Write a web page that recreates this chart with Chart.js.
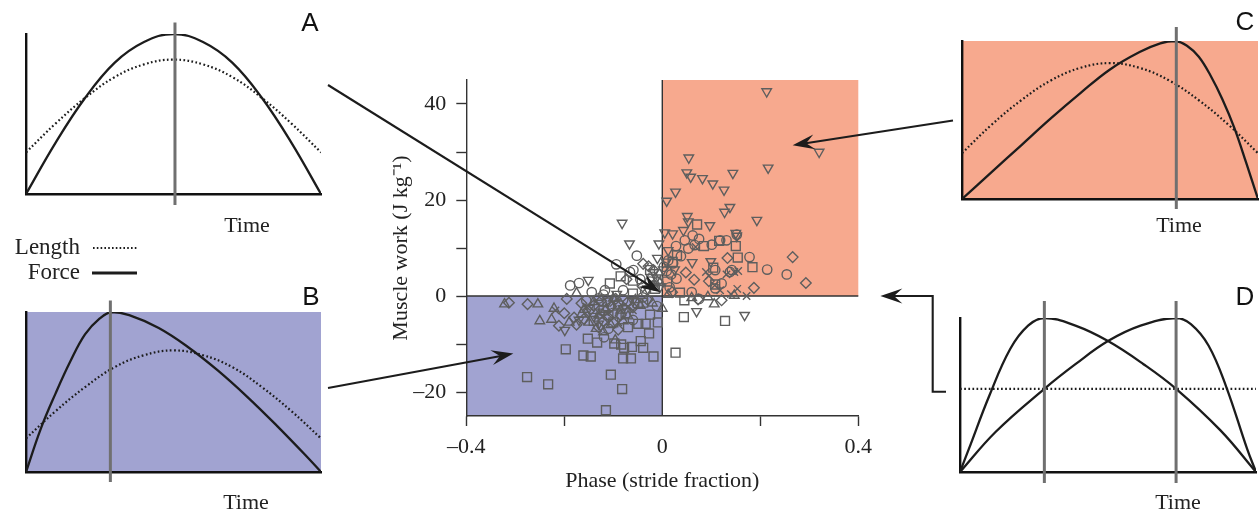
<!DOCTYPE html>
<html>
<head>
<meta charset="utf-8">
<script src="https://cdn.jsdelivr.net/npm/chart.js@4/dist/chart.umd.min.js"></script>
<style>
  html, body { margin: 0; padding: 0; background: #fff; }
  #wrap { position: relative; width: 1260px; height: 514px; overflow: hidden; }
  canvas { position: absolute; }
  .txt { position: absolute; transform: translate(-50%, -50%); white-space: nowrap; line-height: 1;
         font-family: "Liberation Serif", "Times New Roman", serif; font-size: 22px; color: #222; }
  .right { transform: translate(-100%, -50%); }
  .letter { font-family: "Liberation Sans", Arial, sans-serif; font-size: 26px; color: #111; }
  #legendLines { position: absolute; left: 0; top: 0; }
</style>
</head>
<body>
<div id="wrap">
  <canvas id="main" width="1260" height="514" style="left:0;top:0"></canvas>
  <canvas id="panelA"></canvas>
  <canvas id="panelB"></canvas>
  <canvas id="panelC"></canvas>
  <canvas id="panelD"></canvas>

  <div class="txt letter" style="left:310px;top:22px">A</div>
  <div class="txt letter" style="left:311px;top:296px">B</div>
  <div class="txt letter" style="left:1245px;top:21px">C</div>
  <div class="txt letter" style="left:1245px;top:296px">D</div>

  <div class="txt" style="left:247px;top:225px">Time</div>
  <div class="txt" style="left:246px;top:502px">Time</div>
  <div class="txt" style="left:1179px;top:225px">Time</div>
  <div class="txt" style="left:1178px;top:502px">Time</div>

  <div class="txt right" style="left:80px;top:246px;font-size:23px">Length</div>
  <div class="txt right" style="left:80px;top:271px;font-size:23px">Force</div>
  <svg id="legendLines" width="160" height="300">
    <line x1="93" y1="248" x2="137" y2="248" stroke="#1c1c1c" stroke-width="2" stroke-dasharray="1.6 2.2"/>
    <line x1="92" y1="273" x2="137" y2="273" stroke="#1c1c1c" stroke-width="3"/>
  </svg>
</div>

<script>
// ---- scatter: phase (stride fraction) vs muscle work (J/kg), one list per marker ----
const circles = [[-0.052,8.4],[-0.094,6.6],[-0.059,5.4],[-0.066,5.0],[-0.188,2.2],[-0.170,2.7],[-0.144,0.8],[-0.117,1.2],
  [-0.080,1.2],[-0.119,-8.6],[-0.011,-2.1],[0.214,5.5],[0.254,4.5],[0.178,8.1],[0.142,5.4],[0.138,5.0],[0.121,2.6],
  [0.131,11.6],[0.118,11.6],[0.101,10.7],[0.062,12.6],[0.046,11.6],[0.028,10.4],[0.053,9.9],[0.066,10.6],[0.029,3.6],
  [0.009,5.2],[0.022,6.8],[0.108,5.4],[0.012,7.4],[0.003,6.1],[0.038,8.3],[0.075,11.9],[0.152,12.8],[0.060,0.8],
  [0.075,-0.6],[0.108,1.6],[-0.025,3.0],[-0.015,2.2],[-0.035,1.0],[-0.020,4.0],[-0.045,3.5],[-0.130,-0.5],[-0.090,-1.6],
  [-0.100,-3.5],[-0.155,-1.0],[-0.120,0.3],[-0.080,-0.8],[-0.060,-5.0],[-0.040,-0.3],[-0.110,-6.8],[0.018,4.5],[0.015,1.8]];

const upTriangles = [[-0.322,-1.7],[-0.254,-1.7],[-0.250,-5.2],[-0.226,-4.9],[-0.221,-2.6],[-0.190,-5.5],[-0.175,0.6],
  [-0.160,-2.8],[-0.150,-5.5],[-0.130,-4.0],[-0.120,-7.5],[-0.105,-6.0],[-0.096,-9.2],[-0.085,-3.0],[-0.070,-4.2],
  [-0.045,-2.0],[-0.140,-1.2],[-0.115,-2.8],[-0.100,-0.5],[-0.080,-5.2],[-0.165,-3.8],[-0.135,-6.8],[-0.055,-0.8],
  [-0.020,-1.5],[-0.005,2.8],[0.012,0.3],[0.000,-2.6],[0.060,-0.4],[0.093,-0.2],[0.106,-1.7],[0.147,0.1]];

const downTriangles = [[0.213,42.6],[0.320,30.0],[0.054,28.8],[0.050,25.7],[0.058,24.8],[0.082,24.5],[0.103,23.4],
  [0.144,25.6],[0.216,26.7],[0.126,22.1],[0.027,21.7],[0.009,19.8],[0.138,18.5],[0.127,17.5],[0.193,15.8],[0.051,16.6],
  [0.053,15.5],[0.097,14.7],[-0.082,15.2],[-0.067,10.9],[0.005,13.2],[0.021,13.0],[0.043,13.7],[0.150,13.1],[0.152,12.5],
  [-0.007,10.9],[-0.010,7.9],[0.012,9.5],[0.061,7.0],[0.099,7.2],[0.008,7.1],[-0.151,3.3],[0.168,-4.0],[0.070,-3.2],
  [-0.199,-7.1],[-0.017,4.9],[-0.012,3.8],[0.002,5.5],[-0.004,2.0],[-0.030,1.5],[-0.093,0.4],[-0.060,-1.0],[-0.150,-2.5],
  [-0.110,-1.0],[-0.080,-2.6],[-0.170,-5.0],[-0.130,-5.8],[-0.140,-4.2],[0.025,5.5]];

const squares = [[0.071,14.9],[0.116,11.5],[0.150,10.4],[0.154,8.0],[0.184,6.0],[0.085,10.4],[0.021,7.1],[0.104,5.9],
  [0.108,2.4],[0.036,0.7],[0.045,-0.9],[0.044,-4.4],[0.128,-5.2],[0.027,-11.8],[-0.085,4.1],[-0.107,2.6],[-0.025,5.4],
  [-0.060,3.2],[-0.015,1.5],[-0.039,-1.4],[-0.025,-3.9],[-0.009,-5.5],[-0.034,-5.8],[-0.049,-5.8],[-0.027,-7.8],
  [-0.044,-9.4],[-0.039,-10.8],[-0.062,-10.6],[-0.078,-10.8],[-0.098,-9.9],[-0.084,-10.1],[-0.133,-9.7],[-0.152,-8.9],
  [-0.161,-12.4],[-0.146,-12.6],[-0.080,-13.0],[-0.064,-13.0],[-0.018,-12.6],[-0.197,-11.1],[-0.276,-16.9],[-0.233,-18.4],
  [-0.105,-16.4],[-0.082,-19.4],[-0.115,-23.8],[-0.060,0.5],[-0.120,-3.0],[-0.100,-5.5],[-0.070,-6.5],[-0.130,-1.8],
  [-0.110,-4.0],[-0.090,-2.0],[-0.075,-3.6],[-0.140,-5.2],[-0.050,-1.5],[0.030,8.5],[0.010,3.0]];

const diamonds = [[0.266,8.1],[0.293,2.7],[0.187,1.7],[0.133,7.9],[0.065,3.4],[0.121,-0.9],[0.073,-0.7],[0.048,4.9],
  [0.095,3.1],[0.020,0.8],[-0.039,6.7],[-0.018,5.4],[-0.073,3.5],[-0.040,2.0],[-0.010,3.0],[-0.028,6.2],[-0.313,-1.4],
  [-0.275,-1.7],[-0.211,-6.2],[-0.195,-0.6],[-0.200,-3.6],[-0.180,-4.5],[-0.160,-4.8],[-0.140,-2.0],[-0.110,-4.5],
  [-0.090,-7.0],[-0.130,-6.5],[-0.060,-2.4],[-0.165,-1.5],[-0.150,-3.2],[-0.125,-1.0],[-0.105,-2.2],[-0.085,-4.0],
  [-0.070,-1.2],[-0.175,-6.0],[-0.120,-5.2],[-0.095,-0.6],[-0.030,-0.8]];

const crosses = [[0.172,0.0],[0.131,4.5],[0.147,5.0],[0.155,5.2],[0.153,1.5],[0.140,0.4],[0.118,1.2],[0.107,2.2],
  [0.089,5.0],[0.095,4.2],[0.068,10.2],[-0.218,-3.0],[-0.155,-2.2],[-0.130,-3.5],[-0.115,-3.4],[-0.100,-1.5],
  [-0.090,-5.5],[-0.070,-2.2],[-0.060,-3.0]];

// axes
const phaseMin = -0.4, phaseMax = 0.4;
const workMin = -25, workMax = 45;
const xTickValues = [-0.4, -0.2, 0, 0.2, 0.4];
const xTickLabels = ['–0.4', '', '0', '', '0.4'];
const yTickValues = [-20, -10, 0, 10, 20, 30, 40];
const yTickLabels = ['–20', '', '0', '', '20', '', '40'];

// ---- schematic force / length traces over one contraction (time 0..1) ----
const timeA = [0, 0.1, 0.2, 0.3, 0.4, 0.5, 0.6, 0.7, 0.8, 0.9, 1];
const forceA = [0, 0.32, 0.6, 0.82, 0.95, 1, 0.95, 0.82, 0.6, 0.32, 0];
const lengthA = [0.26, 0.44, 0.6, 0.73, 0.81, 0.84, 0.81, 0.73, 0.6, 0.44, 0.26];

const timeForceB = [0, 0.05, 0.1, 0.15, 0.2, 0.25, 0.29, 0.35, 0.45, 0.55, 0.65, 0.75, 0.85, 0.95, 1];
const forceB = [0, 0.27, 0.49, 0.69, 0.86, 0.96, 1, 0.98, 0.9, 0.78, 0.635, 0.47, 0.29, 0.1, 0];
const timeLengthB = [0, 0.1, 0.2, 0.3, 0.4, 0.5, 0.6, 0.7, 0.8, 0.9, 1];
const lengthB = [0.21, 0.38, 0.53, 0.655, 0.73, 0.76, 0.73, 0.655, 0.53, 0.38, 0.21];

const timeForceC = [0, 0.1, 0.2, 0.3, 0.4, 0.5, 0.6, 0.67, 0.72, 0.76, 0.8, 0.84, 0.88, 0.92, 0.96, 1];
const forceC = [0, 0.17, 0.34, 0.51, 0.67, 0.82, 0.93, 0.985, 1, 0.97, 0.9, 0.78, 0.63, 0.45, 0.23, 0];
const timeLengthC = [0, 0.1, 0.2, 0.3, 0.4, 0.5, 0.6, 0.7, 0.8, 0.9, 1];
const lengthC = [0.29, 0.47, 0.625, 0.75, 0.83, 0.86, 0.83, 0.75, 0.625, 0.47, 0.29];

const timeEarlyD = [0, 0.03, 0.1, 0.17, 0.23, 0.285, 0.39, 0.5, 0.62, 0.73, 0.88, 1];
const forceEarlyD = [0, 0.15, 0.5, 0.8, 0.95, 1, 0.95, 0.85, 0.7, 0.54, 0.27, 0];
const timeLateD = [0, 0.12, 0.285, 0.39, 0.5, 0.61, 0.73, 0.78, 0.84, 0.9, 0.97, 1];
const forceLateD = [0, 0.26, 0.54, 0.7, 0.85, 0.95, 1, 0.96, 0.82, 0.55, 0.15, 0];
const timeLengthD = [0, 1];
const lengthD = [0.54, 0.54];

// stimulus markers (vertical grey lines)
const peaksA = [0.505];
const peaksB = [0.286];
const peaksC = [0.724];
const peaksD = [0.285, 0.73];

const gainColor = 'rgb(247,169,142)';
const lossColor = 'rgb(161,163,209)';
const ink = '#1c1c1c';
const serif = '"Liberation Serif", "Times New Roman", serif';

function pts(list) {
  return list.map(p => ({ x: p[0], y: p[1] }));
}

function series(ts, vs) {
  return ts.map((t, i) => ({ x: t, y: vs[i] }));
}

function markerSet(list, style, rotation, radius) {
  return {
    data: pts(list),
    pointStyle: style,
    rotation: rotation,
    radius: radius,
    borderColor: '#5e5e5e',
    backgroundColor: 'rgba(0,0,0,0)',
    borderWidth: 1.4
  };
}

/* QUADRANTS */
const quadrants = {
  id: 'quadrants',
  beforeDraw(chart) {
    const { ctx, scales: { x, y } } = chart;
    const x0 = x.getPixelForValue(0);
    const y0 = y.getPixelForValue(0);
    ctx.save();
    ctx.fillStyle = gainColor;
    ctx.fillRect(x0, y.getPixelForValue(workMax), x.getPixelForValue(phaseMax) - x0, y0 - y.getPixelForValue(workMax));
    ctx.fillStyle = lossColor;
    ctx.fillRect(x.getPixelForValue(phaseMin), y0, x0 - x.getPixelForValue(phaseMin), y.getPixelForValue(workMin) - y0);
    ctx.restore();
  },
  beforeDatasetsDraw(chart) {
    const { ctx, scales: { x, y } } = chart;
    const x0 = x.getPixelForValue(0);
    const y0 = y.getPixelForValue(0);
    ctx.save();
    ctx.strokeStyle = '#333';
    ctx.lineWidth = 1.4;
    ctx.beginPath();
    ctx.moveTo(x0, y.getPixelForValue(workMax));
    ctx.lineTo(x0, y.getPixelForValue(workMin));
    ctx.moveTo(x.getPixelForValue(phaseMin), y0);
    ctx.lineTo(x.getPixelForValue(phaseMax), y0);
    ctx.stroke();
    ctx.restore();
  }
};

/* ARROWS from the side panels into the quadrants */
function arrowHead(ctx, fx, fy, tx, ty, len, half) {
  const a = Math.atan2(ty - fy, tx - fx);
  const c = Math.cos(a), s = Math.sin(a);
  ctx.beginPath();
  ctx.moveTo(tx, ty);
  ctx.lineTo(tx - len * c + half * s, ty - len * s - half * c);
  ctx.lineTo(tx - len * 0.62 * c, ty - len * 0.62 * s);
  ctx.lineTo(tx - len * c - half * s, ty - len * s + half * c);
  ctx.closePath();
  ctx.fill();
}

const arrowPaths = [
  { from: [[328, 85]], tip: [-0.004, 0.8] },
  { from: [[328, 388]], tip: [-0.304, -12] },
  { from: [[953, 120.5]], tip: [0.266, 31.4] },
  { from: [[946, 391.7], [932.7, 391.7], [932.7, 296]], tip: [0.445, 0] }
];

const arrows = {
  id: 'arrows',
  afterDraw(chart) {
    const { ctx, scales: { x, y } } = chart;
    ctx.save();
    ctx.strokeStyle = ink;
    ctx.fillStyle = ink;
    ctx.lineWidth = 2.1;
    arrowPaths.forEach(a => {
      const tx = x.getPixelForValue(a.tip[0]);
      const ty = y.getPixelForValue(a.tip[1]);
      const last = a.from[a.from.length - 1];
      ctx.beginPath();
      ctx.moveTo(a.from[0][0], a.from[0][1]);
      a.from.slice(1).forEach(p => ctx.lineTo(p[0], p[1]));
      // stop the shaft inside the head so the point stays sharp
      const d = Math.hypot(tx - last[0], ty - last[1]);
      ctx.lineTo(tx - (tx - last[0]) * 10 / d, ty - (ty - last[1]) * 10 / d);
      ctx.stroke();
      arrowHead(ctx, last[0], last[1], tx, ty, 22, 7.5);
    });
    ctx.restore();
  }
};

/* MAIN SCATTER */
new Chart(document.getElementById('main'), {
  type: 'scatter',
  data: {
    datasets: [
      markerSet(squares, 'rect', 0, 6.3),
      markerSet(diamonds, 'rectRot', 0, 5.3),
      markerSet(upTriangles, 'triangle', 0, 5.5),
      markerSet(circles, 'circle', 0, 4.7),
      markerSet(crosses, 'crossRot', 0, 5.2),
      markerSet(downTriangles, 'triangle', 180, 5.5)
    ]
  },
  options: {
    responsive: false,
    animation: false,
    events: [],
    layout: { padding: { left: 386.3, right: 401.7, top: 80, bottom: 16 } },
    plugins: { legend: { display: false }, tooltip: { enabled: false } },
    scales: {
      x: {
        type: 'linear',
        min: phaseMin,
        max: phaseMax,
        afterBuildTicks: s => { s.ticks = xTickValues.map(v => ({ value: v })); },
        afterFit: s => { s.height = 82; },
        grid: {
          drawOnChartArea: false,
          drawTicks: true,
          tickLength: 10,
          tickWidth: 1.4,
          tickColor: c => (c.tick && c.tick.value === 0 ? 'rgba(0,0,0,0)' : '#333')
        },
        border: { display: true, color: '#333', width: 1.4 },
        ticks: {
          padding: 8,
          autoSkip: false,
          maxRotation: 0,
          color: '#222',
          font: { family: serif, size: 22 },
          callback: v => xTickLabels[xTickValues.indexOf(v)]
        },
        title: { display: true, text: 'Phase (stride fraction)', color: '#222', font: { family: serif, size: 22 } }
      },
      y: {
        type: 'linear',
        min: workMin,
        max: workMax,
        afterBuildTicks: s => { s.ticks = yTickValues.map(v => ({ value: v })); },
        afterFit: s => { s.width = 80; },
        grid: { drawOnChartArea: false, drawTicks: true, tickLength: 10, tickWidth: 1.4, tickColor: '#333' },
        border: { display: true, color: '#333', width: 1.4 },
        ticks: {
          padding: 10,
          autoSkip: false,
          color: '#222',
          font: { family: serif, size: 22 },
          callback: v => yTickLabels[yTickValues.indexOf(v)]
        },
        title: { display: true, text: 'Muscle work (J kg⁻¹)', color: '#222', font: { family: serif, size: 22 }, padding: { top: 2, bottom: 4 } }
      }
    }
  },
  plugins: [quadrants, arrows]
});

/* SIDE PANELS */
const panelDecor = {
  id: 'panelDecor',
  beforeDraw(chart, args, opts) {
    if (!opts.fill) return;
    const a = chart.chartArea;
    chart.ctx.save();
    chart.ctx.fillStyle = opts.fill;
    chart.ctx.fillRect(a.left, a.top, a.right - a.left, a.bottom - a.top);
    chart.ctx.restore();
  },
  afterDatasetsDraw(chart, args, opts) {
    const { ctx, chartArea: a, scales: { x } } = chart;
    ctx.save();
    ctx.strokeStyle = '#707070';
    ctx.lineWidth = 3;
    opts.markers.forEach(t => {
      const px = x.getPixelForValue(t);
      ctx.beginPath();
      ctx.moveTo(px, a.top - opts.above);
      ctx.lineTo(px, a.bottom + opts.below);
      ctx.stroke();
    });
    ctx.restore();
  }
};

function forceLine(data) {
  return { data: data, borderColor: ink, borderWidth: 2.3, tension: 0.4, pointRadius: 0 };
}

function lengthLine(data) {
  return { data: data, borderColor: ink, borderWidth: 2.2, borderDash: [1.7, 2.4], tension: 0.4, pointRadius: 0 };
}

function panel(id, box, datasets, markers, fill, above, below) {
  const cv = document.getElementById(id);
  const pad = { left: 14, top: 22, right: 14, bottom: 16 };
  cv.width = Math.round(box.right - box.left) + pad.left + pad.right;
  cv.height = Math.round(box.bottom - box.top) + pad.top + pad.bottom;
  cv.style.left = (box.left - pad.left) + 'px';
  cv.style.top = (box.top - pad.top) + 'px';

  new Chart(cv, {
    type: 'line',
    data: { datasets: datasets },
    options: {
      responsive: false,
      animation: false,
      events: [],
      layout: { padding: pad },
      plugins: {
        legend: { display: false },
        tooltip: { enabled: false },
        panelDecor: { fill: fill, markers: markers, above: above, below: below }
      },
      scales: {
        x: {
          type: 'linear', min: 0, max: 1,
          afterFit: s => { s.height = 0; },
          ticks: { display: false },
          grid: { display: false },
          border: { display: true, color: '#111', width: 2.4 }
        },
        y: {
          type: 'linear', min: 0, max: 1,
          afterFit: s => { s.width = 0; },
          ticks: { display: false },
          grid: { display: false },
          border: { display: true, color: '#111', width: 2.4 }
        }
      }
    },
    plugins: [panelDecor]
  });
}

panel('panelA', { left: 26, top: 34, right: 321, bottom: 194 },
  [lengthLine(series(timeA, lengthA)), forceLine(series(timeA, forceA))],
  peaksA, null, 11.5, 11);

panel('panelB', { left: 26, top: 312, right: 321, bottom: 472 },
  [lengthLine(series(timeLengthB, lengthB)), forceLine(series(timeForceB, forceB))],
  peaksB, lossColor, 11.5, 10);

panel('panelC', { left: 962, top: 41, right: 1258, bottom: 199 },
  [lengthLine(series(timeLengthC, lengthC)), forceLine(series(timeForceC, forceC))],
  peaksC, gainColor, 14, 10);

panel('panelD', { left: 960, top: 318, right: 1256, bottom: 472 },
  [lengthLine(series(timeLengthD, lengthD)), forceLine(series(timeEarlyD, forceEarlyD)), forceLine(series(timeLateD, forceLateD))],
  peaksD, null, 17, 11);
</script>
</body>
</html>
